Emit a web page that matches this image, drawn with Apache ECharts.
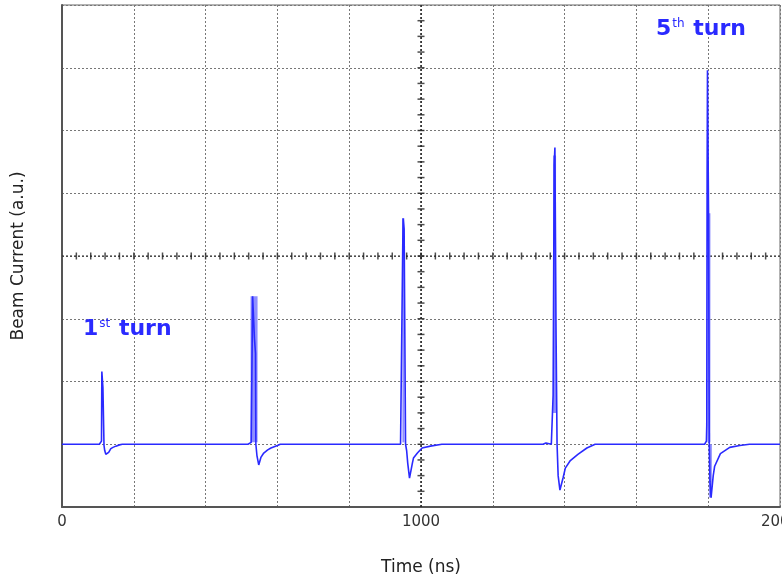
<!DOCTYPE html>
<html>
<head>
<meta charset="utf-8">
<script src="https://cdn.jsdelivr.net/npm/echarts@6/dist/echarts.min.js"></script>
<style>html,body{margin:0;padding:0;background:#fff}#c{width:782px;height:582px}</style>
</head>
<body>
<div id="c"></div>
<script>
// ---- data (time in ns, beam current in a.u.; baseline = 0, one division = 1) ----
const xTickLabels = ['0', '1000', '2000'];
const baselineStart = [[0, 0], [40, 0], [42, 0.025], [44, 0]];
const pulse1 = [[104, 0], [108, 0.02], [110, 0.05], [111, 1.16], [113, 1.16], [114, 0.9], [116, 0.9], [117, -0.02],
  [119, -0.1], [122, -0.16], [126, -0.17], [130, -0.13], [136, -0.07], [142, -0.05], [150, -0.03], [160, -0.01], [168, 0]];
const noise1 = [[250, 0], [253, 0.025], [256, 0], [280, 0], [283, 0.025], [286, 0], [330, 0], [333, 0.02], [336, 0], [355, 0], [358, 0.025], [362, 0]];
const pulse2 = [[518, 0], [523, 0.02], [527, 0.03], [530, 0.05], [531, 2.36], [534, 2.36], [536, 1.69], [539, 1.45], [540, 0],
  [543, -0.18], [548, -0.33], [551, -0.33], [554, -0.21], [562, -0.14], [573, -0.09], [582, -0.06], [600, -0.02], [608, 0]];
const noise2 = [[710, 0], [713, 0.02], [716, 0], [740, 0], [743, 0.02], [746, 0], [900, 0], [905, 0.025], [910, 0], [925, 0], [929, 0.025], [933, 0]];
const pulse3 = [[943, 0], [948, 0.03], [950, 3.6], [953, 3.43], [956, 3.43], [957, 0], [960, -0.1], [963, -0.3], [968, -0.54],
  [972, -0.53], [976, -0.3], [979, -0.22], [990, -0.14], [1003, -0.06], [1026, -0.03], [1058, 0]];
const noise3 = [[1200, 0], [1204, 0.02], [1208, 0], [1330, 0], [1335, 0.025], [1340, 0], [1345, 0], [1348, 0.02], [1352, 0]];
const pulse4 = [[1363, 0], [1367, 0.02], [1368, 0.78], [1370, 0.78], [1371, 4.45], [1373, 4.73], [1375, 4.73], [1376, 1.9],
  [1378, 1.9], [1379, 0], [1382, -0.5], [1387, -0.73], [1392, -0.73], [1396, -0.53], [1402, -0.38], [1416, -0.26],
  [1437, -0.16], [1462, -0.06], [1485, 0]];
const noise4 = [[1630, 0], [1634, 0.02], [1638, 0], [1650, 0], [1654, 0.025], [1658, 0], [1760, 0], [1764, 0.02], [1768, 0]];
const pulse5 = [[1790, 0], [1795, 0.05], [1796, 0.3], [1797, 4.33], [1798, 5.96], [1800, 5.96], [1801, 3.68], [1803, 0],
  [1805, -0.6], [1808, -0.85], [1811, -0.85], [1814, -0.5], [1818, -0.35], [1834, -0.15], [1860, -0.05], [1888, -0.02], [1915, 0]];
const baselineEnd = [[2000, 0]];
// lighter blurred envelope around the fast spikes
const bandSegments = [
  [[535, 0.03], [535, 2.36]],
  [[951, 0.03], [951, 3.6]],
  [[1372, 0.5], [1372, 4.6]],
  [[1802, 0.03], [1802, 3.68]],
  [[1806, -0.85], [1806, 0]]
];
const bandWidths = [7, 2, 3, 3, 3];

const trace = [].concat(baselineStart, pulse1, noise1, pulse2, noise2, pulse3, noise3, pulse4, noise4, pulse5, baselineEnd);

// crosshair minor ticks
const crossTicksX = [];
for (let t = 40; t < 2000; t += 40) crossTicksX.push([t, 3]);
const crossTicksY = [];
for (let v = -0.75; v < 7; v += 0.25) crossTicksY.push([1000, v]);

const BLUE = '#2a2aff', LIGHT = '#8f8fff';
const FONT = 'DejaVu Sans';

const series = [];
series.push({ type: 'line', data: [[0, 3], [2000, 3]], symbol: 'none', silent: true,
  lineStyle: { color: '#222', width: 1, type: [2, 2] }, z: 1 });
series.push({ type: 'line', data: [[1000, -1], [1000, 7]], symbol: 'none', silent: true,
  lineStyle: { color: '#222', width: 1.5, type: [2, 2] }, z: 1 });
series.push({ type: 'scatter', data: crossTicksX, symbol: 'rect', symbolSize: [1.5, 7], itemStyle: { color: '#222' }, silent: true, z: 1 });
series.push({ type: 'scatter', data: crossTicksY, symbol: 'rect', symbolSize: [7, 1.5], itemStyle: { color: '#222' }, silent: true, z: 1 });
bandSegments.forEach((seg, i) => {
  series.push({ type: 'line', data: seg, symbol: 'none', silent: true,
    lineStyle: { color: LIGHT, width: bandWidths[i] }, z: 2 });
});
series.push({ type: 'line', data: trace, symbol: 'none', silent: true,
  lineStyle: { color: BLUE, width: 1.6 }, z: 3 });

const richText = {
  b: { fontFamily: FONT, fontSize: 22, fontWeight: 'bold', fill: BLUE, verticalAlign: 'bottom' },
  s: { fontFamily: FONT, fontSize: 12, fontWeight: 'normal', fill: BLUE, verticalAlign: 'top', padding: [0, 1, 10, 1] }
};

const chart = echarts.init(document.getElementById('c'), null, { renderer: 'canvas' });
chart.setOption({
  animation: false,
  backgroundColor: '#fff',
  grid: { left: 62, right: 2, top: 5, bottom: 75, containLabel: false, outerBoundsMode: 'none',
    show: true, borderColor: '#666', borderWidth: 1 },
  xAxis: {
    type: 'value', min: 0, max: 2000, interval: 200,
    name: 'Time (ns)', nameLocation: 'middle', nameGap: 52,
    nameTextStyle: { fontFamily: FONT, fontSize: 17, color: '#222' },
    axisLine: { show: true, onZero: false, lineStyle: { color: '#555', width: 2 } },
    axisTick: { show: false },
    axisLabel: { fontFamily: FONT, fontSize: 15, color: '#333', margin: 8, hideOverlap: false,
      formatter: v => xTickLabels.indexOf(String(v)) >= 0 ? String(v) : '' },
    splitLine: { show: true, lineStyle: { color: '#777', width: 1, type: [2, 2] } }
  },
  yAxis: {
    type: 'value', min: -1, max: 7, interval: 1,
    name: 'Beam Current (a.u.)', nameLocation: 'middle', nameGap: 35,
    nameTextStyle: { fontFamily: FONT, fontSize: 17, color: '#222' },
    axisLine: { show: true, onZero: false, lineStyle: { color: '#555', width: 2 } },
    axisTick: { show: false },
    axisLabel: { show: false },
    splitLine: { show: true, lineStyle: { color: '#777', width: 1, type: [2, 2] } }
  },
  graphic: [
    { type: 'text', left: 83, top: 318, z: 10,
      style: { text: '{b|1}{s|st}{b| turn}', fill: BLUE, rich: richText } },
    { type: 'text', left: 656, top: 18, z: 10,
      style: { text: '{b|5}{s|th}{b| turn}', fill: BLUE, rich: richText } }
  ],
  series: series
});
</script>
</body>
</html>
